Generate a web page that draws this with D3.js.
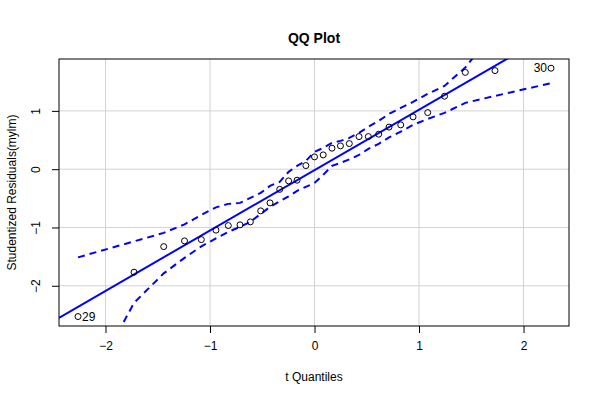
<!DOCTYPE html>
<html>
<head>
<meta charset="utf-8">
<script src="https://cdn.jsdelivr.net/npm/d3@7"></script>
<style>
  html, body { margin: 0; padding: 0; background: #fff; }
  svg { display: block; font-family: "Liberation Sans", Arial, Helvetica, sans-serif; }
</style>
</head>
<body>
<svg id="chart" width="600" height="400"></svg>
<script>
// ---- data ----
const tQuantiles = [-2.263, -1.727, -1.443, -1.244, -1.083, -0.943, -0.825, -0.713, -0.614, -0.515,
  -0.426, -0.333, -0.248, -0.167, -0.083, 0.000, 0.083, 0.167, 0.248, 0.333,
  0.426, 0.515, 0.614, 0.713, 0.825, 0.943, 1.083, 1.244, 1.443, 1.727, 2.263];
const residuals = [-2.528, -1.767, -1.328, -1.230, -1.208, -1.046, -0.967, -0.955, -0.904, -0.715,
  -0.578, -0.346, -0.201, -0.189, 0.062, 0.211, 0.245, 0.360, 0.400, 0.439,
  0.559, 0.559, 0.600, 0.722, 0.760, 0.897, 0.971, 1.252, 1.660, 1.691, 1.732];
const upperBand = [-1.513, -1.238, -1.093, -0.947, -0.784, -0.655, -0.595, -0.578, -0.492, -0.407,
  -0.286, -0.218, -0.046, 0.057, 0.142, 0.297, 0.365, 0.451, 0.485, 0.537,
  0.623, 0.726, 0.828, 0.949, 1.051, 1.154, 1.292, 1.429, 1.745, 2.380, 2.800];
const lowerBand = [-4.070, -2.293, -1.787, -1.521, -1.324, -1.187, -1.075, -0.990, -0.904, -0.767,
  -0.647, -0.552, -0.467, -0.372, -0.304, -0.235, -0.098, 0.057, 0.108, 0.168,
  0.245, 0.348, 0.434, 0.545, 0.645, 0.760, 0.863, 0.966, 1.137, 1.257, 1.475];
const fitIntercept = -0.016;
const fitSlope = 1.036;
const pointLabels = [{ index: 0, text: "29", side: "right" }, { index: 30, text: "30", side: "left" }];
const xTicks = [-2, -1, 0, 1, 2];
const yTicks = [-2, -1, 0, 1];
const titleText = "QQ Plot";
const xLabelText = "t Quantiles";
const yLabelText = "Studentized Residuals(mylm)";

// ---- layout ----
const svg = d3.select("#chart");
const pL = 59, pR = 569, pT = 59, pB = 326;
const x = d3.scaleLinear().domain([-2.445, 2.435]).range([pL, pR]);
const y = d3.scaleLinear().domain([-2.69, 1.89]).range([pB, pT]);

svg.append("defs").append("clipPath").attr("id", "plotclip")
  .append("rect").attr("x", pL).attr("y", pT).attr("width", pR - pL).attr("height", pB - pT);

// grid
const grid = svg.append("g").attr("stroke", "#d3d3d3").attr("stroke-width", 1);
grid.selectAll("line.gx").data(xTicks).join("line").attr("class", "gx")
  .attr("x1", d => x(d)).attr("x2", d => x(d)).attr("y1", pT).attr("y2", pB);
grid.selectAll("line.gy").data(yTicks).join("line").attr("class", "gy")
  .attr("x1", pL).attr("x2", pR).attr("y1", d => y(d)).attr("y2", d => y(d));

const plot = svg.append("g").attr("clip-path", "url(#plotclip)");

// fitted line
plot.append("line")
  .attr("x1", x(-2.445)).attr("y1", y(fitIntercept + fitSlope * -2.445))
  .attr("x2", x(2.435)).attr("y2", y(fitIntercept + fitSlope * 2.435))
  .attr("stroke", "#0000ff").attr("stroke-width", 2);

// envelope
const bandLine = vals => d3.line().x((d, i) => x(tQuantiles[i])).y(d => y(d))(vals);
[upperBand, lowerBand].forEach(b => {
  plot.append("path").attr("d", bandLine(b))
    .attr("fill", "none").attr("stroke", "#0000ff").attr("stroke-width", 2)
    .attr("stroke-dasharray", "7,5");
});

// points
plot.selectAll("circle").data(residuals).join("circle")
  .attr("cx", (d, i) => x(tQuantiles[i])).attr("cy", d => y(d)).attr("r", 3)
  .attr("fill", "none").attr("stroke", "#000").attr("stroke-width", 1);

// point labels
svg.selectAll("text.plab").data(pointLabels).join("text")
  .attr("class", "plab")
  .attr("x", d => x(tQuantiles[d.index]) + (d.side === "right" ? 4 : -4))
  .attr("y", d => y(residuals[d.index]) + 4)
  .attr("text-anchor", d => d.side === "right" ? "start" : "end")
  .attr("font-size", 12).attr("fill", "#000").text(d => d.text);

// axes
const fmt = d => d < 0 ? "\u2212" + Math.abs(d) : String(d);
const xAxis = d3.axisBottom(x).tickValues(xTicks).tickSize(7).tickPadding(8).tickFormat(fmt);
const gx = svg.append("g").attr("transform", `translate(0,${pB})`).call(xAxis);
gx.select(".domain").remove();
gx.selectAll("text").attr("font-size", 12).attr("font-family", "Liberation Sans, Arial, sans-serif").attr("fill", "#000");

const yAxis = d3.axisLeft(y).tickValues(yTicks).tickSize(7).tickPadding(0).tickFormat(fmt);
const gy = svg.append("g").attr("transform", `translate(${pL},0)`).call(yAxis);
gy.select(".domain").remove();
gy.selectAll("text")
  .attr("font-size", 12).attr("font-family", "Liberation Sans, Arial, sans-serif").attr("fill", "#000")
  .attr("x", 0).attr("dy", 0).attr("text-anchor", "middle")
  .attr("transform", "translate(-19,0) rotate(-90)");

// box
svg.append("rect").attr("x", pL).attr("y", pT).attr("width", pR - pL).attr("height", pB - pT)
  .attr("fill", "none").attr("stroke", "#000").attr("stroke-width", 1);

// titles
svg.append("text").attr("x", (pL + pR) / 2).attr("y", 43).attr("text-anchor", "middle")
  .attr("font-size", 14).attr("font-weight", "bold").text(titleText);
svg.append("text").attr("x", (pL + pR) / 2).attr("y", 381).attr("text-anchor", "middle")
  .attr("font-size", 12).text(xLabelText);
svg.append("text").attr("transform", `translate(16,${(pT + pB) / 2}) rotate(-90)`)
  .attr("text-anchor", "middle").attr("font-size", 12).text(yLabelText);
</script>
</body>
</html>
